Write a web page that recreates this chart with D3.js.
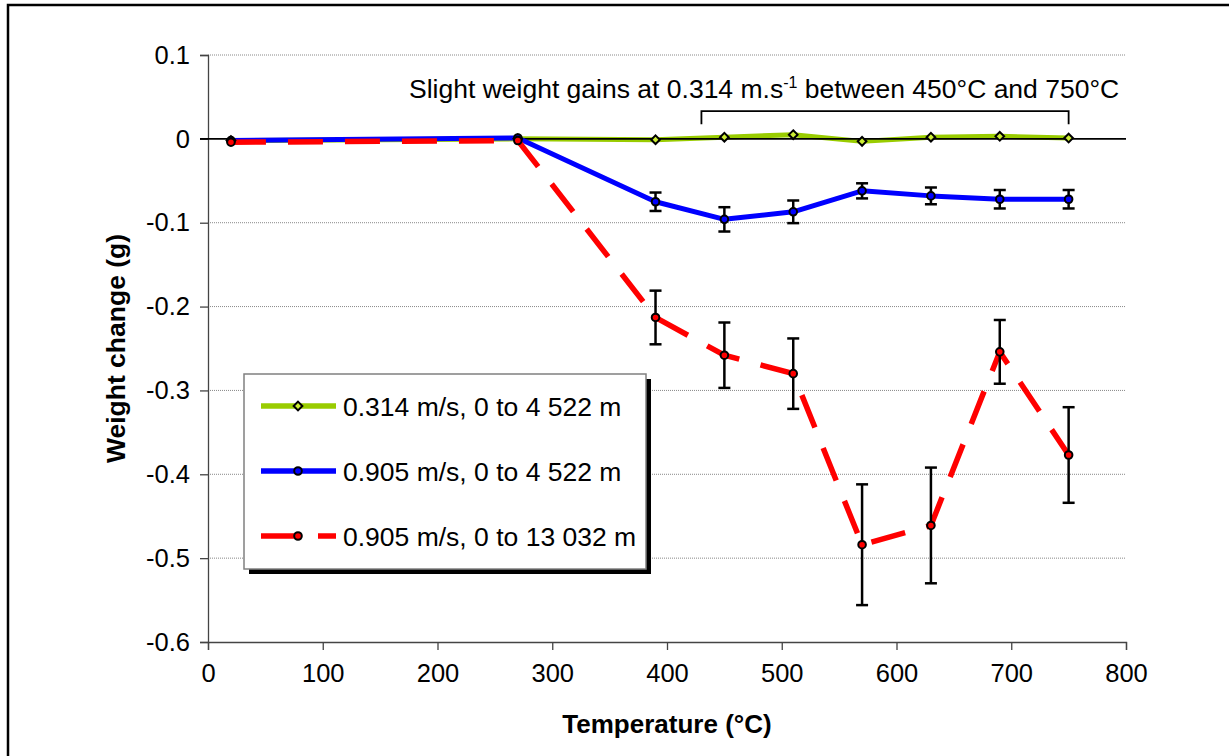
<!DOCTYPE html>
<html>
<head>
<meta charset="utf-8">
<script src="https://cdn.jsdelivr.net/npm/d3@7"></script>
<style>
  body { margin: 0; background: #fff; }
  text { font-family: "Liberation Sans", Arial, sans-serif; fill: #000; }
</style>
</head>
<body>
<script>
// temperatures (°C)
const temps = [20, 270, 390, 450, 510, 570, 630, 690, 750];

// weight change (g)
const green = [-0.002, 0.000, -0.001, 0.002, 0.005, -0.003, 0.002, 0.003, 0.001];
const blue = [-0.002, 0.001, -0.075, -0.096, -0.087, -0.062, -0.068, -0.072, -0.072];
const blueErr = [0, 0, 0.011, 0.0145, 0.0135, 0.009, 0.010, 0.011, 0.011];
const red = [-0.004, -0.002, -0.213, -0.258, -0.280, -0.484, -0.461, -0.254, -0.377];
const redErr = [0, 0, 0.032, 0.039, 0.042, 0.072, 0.069, 0.038, 0.057];

const xTicks = [0, 100, 200, 300, 400, 500, 600, 700, 800];
const yTicks = [0.1, 0, -0.1, -0.2, -0.3, -0.4, -0.5, -0.6];

const seriesNames = ["0.314 m/s, 0 to 4 522 m", "0.905 m/s, 0 to 4 522 m", "0.905 m/s, 0 to 13 032 m"];
const bracketRange = [430, 750];

const W = 1229, H = 756;
const svg = d3.select("body").append("svg").attr("width", W).attr("height", H);

// outer frame
svg.append("rect").attr("x", 8).attr("y", 5).attr("width", 1250).attr("height", 800)
  .attr("fill", "none").attr("stroke", "#000").attr("stroke-width", 2.5);

const x = d3.scaleLinear().domain([0, 800]).range([208, 1126]);
const y = d3.scaleLinear().domain([-0.6, 0.1]).range([642, 55]);

const fmt = d => d === 0 ? "0" : d3.format(".1f")(d).replace("−", "-");

// gridlines
svg.append("g").selectAll("line").data(yTicks.filter(d => d !== 0 && d !== -0.6)).enter().append("line")
  .attr("x1", x(0)).attr("x2", x(800)).attr("y1", d => y(d)).attr("y2", d => y(d))
  .attr("stroke", "#888").attr("stroke-width", 1).attr("stroke-dasharray", "1,1");

// y axis
const yAxis = svg.append("g").attr("transform", `translate(${x(0)},0)`)
  .call(d3.axisLeft(y).tickValues(yTicks).tickFormat(fmt).tickSize(8).tickPadding(10));
yAxis.select(".domain").attr("stroke", "#444").attr("stroke-width", 1.3);
yAxis.selectAll(".tick line").attr("stroke", "#444").attr("stroke-width", 1.3);
yAxis.selectAll("text").style("font-size", "25.5px").attr("font-family", null);

// x axis
const xAxis = svg.append("g").attr("transform", `translate(0,${y(-0.6)})`)
  .call(d3.axisBottom(x).tickValues(xTicks).tickFormat(d3.format("d")).tickSize(8).tickSizeOuter(8).tickPadding(14));
xAxis.select(".domain").attr("stroke", "#444").attr("stroke-width", 1.3);
xAxis.selectAll(".tick line").attr("stroke", "#444").attr("stroke-width", 1.3);
xAxis.selectAll("text").style("font-size", "25.5px").attr("font-family", null);

// axis titles
svg.append("text").attr("x", 667).attr("y", 733).attr("text-anchor", "middle")
  .style("font-size", "26px").style("font-weight", "bold").text("Temperature (°C)");
svg.append("text").attr("transform", `translate(125,${y(-0.25)}) rotate(-90)`).attr("text-anchor", "middle")
  .style("font-size", "26.5px").style("font-weight", "bold").text("Weight change (g)");

const line = d3.line().x((d, i) => x(temps[i])).y(d => y(d));

// green series under zero line
svg.append("path").datum(green).attr("d", line).attr("fill", "none")
  .attr("stroke", "#99cc00").attr("stroke-width", 5).attr("stroke-linejoin", "round");

// zero line
svg.append("line").attr("x1", x(0) - 8).attr("x2", x(800)).attr("y1", y(0)).attr("y2", y(0))
  .attr("stroke", "#000").attr("stroke-width", 1.8);

svg.append("path").datum(blue).attr("d", line).attr("fill", "none")
  .attr("stroke", "#0000ff").attr("stroke-width", 5).attr("stroke-linejoin", "round");
svg.append("path").datum(red).attr("d", line).attr("fill", "none")
  .attr("stroke", "#ff0000").attr("stroke-width", 5.5).attr("stroke-dasharray", "35,22");

// error bars
function errorBars(vals, errs) {
  const g = svg.append("g").attr("stroke", "#000").attr("stroke-width", 2.5);
  vals.forEach((v, i) => {
    if (!errs[i]) return;
    const cx = x(temps[i]);
    g.append("line").attr("x1", cx).attr("x2", cx).attr("y1", y(v + errs[i])).attr("y2", y(v - errs[i]));
    [v + errs[i], v - errs[i]].forEach(e => {
      g.append("line").attr("x1", cx - 6).attr("x2", cx + 6).attr("y1", y(e)).attr("y2", y(e));
    });
  });
}
errorBars(blue, blueErr);
errorBars(red, redErr);

// markers
const diamond = d3.symbol().type(d3.symbolDiamond2).size(48);
svg.append("g").selectAll("path").data(green).enter().append("path")
  .attr("d", diamond).attr("transform", (d, i) => `translate(${x(temps[i])},${y(d)})`)
  .attr("fill", "#ccee33").attr("stroke", "#000").attr("stroke-width", 2);
svg.append("g").selectAll("circle").data(blue).enter().append("circle")
  .attr("cx", (d, i) => x(temps[i])).attr("cy", d => y(d)).attr("r", 3.8)
  .attr("fill", "#0000ff").attr("stroke", "#000").attr("stroke-width", 2);
svg.append("g").selectAll("circle").data(red).enter().append("circle")
  .attr("cx", (d, i) => x(temps[i])).attr("cy", d => y(d)).attr("r", 3.8)
  .attr("fill", "#ff0000").attr("stroke", "#000").attr("stroke-width", 2);

// annotation
const ann = svg.append("text").attr("x", 409).attr("y", 98).style("font-size", "26.5px");
ann.append("tspan").text("Slight weight gains at 0.314 m.s");
ann.append("tspan").attr("dy", -10).style("font-size", "16px").text("-1");
ann.append("tspan").attr("dy", 10).text(" between 450°C and 750°C");

svg.append("path")
  .attr("d", `M${x(bracketRange[0])},${y(0.0175)}V${y(0.033)}H${x(bracketRange[1])}V${y(0.0175)}`)
  .attr("fill", "none").attr("stroke", "#000").attr("stroke-width", 1.8);

// legend
const lg = svg.append("g").attr("transform", "translate(244,374)");
lg.append("rect").attr("x", 5).attr("y", 5).attr("width", 402).attr("height", 195).attr("fill", "#000");
lg.append("rect").attr("width", 402).attr("height", 195).attr("fill", "#fff")
  .attr("stroke", "#808080").attr("stroke-width", 1.5);

const legendColors = ["#99cc00", "#0000ff", "#ff0000"];
seriesNames.forEach((name, i) => {
  const row = lg.append("g").attr("transform", `translate(0,${32 + i * 65})`);
  row.append("line").attr("x1", 17).attr("x2", 92).attr("y1", 0).attr("y2", 0)
    .attr("stroke", legendColors[i]).attr("stroke-width", 5.5)
    .attr("stroke-dasharray", i === 2 ? "37,20,20" : null);
  if (i === 0) {
    row.append("path").attr("d", diamond).attr("transform", "translate(54,0)")
      .attr("fill", "#ccee33").attr("stroke", "#000").attr("stroke-width", 2);
  } else {
    row.append("circle").attr("cx", 54).attr("cy", 0).attr("r", 3.8)
      .attr("fill", legendColors[i]).attr("stroke", "#000").attr("stroke-width", 2);
  }
  row.append("text").attr("x", 99).attr("y", 9.5).style("font-size", "26.5px").text(name);
});
</script>
</body>
</html>
